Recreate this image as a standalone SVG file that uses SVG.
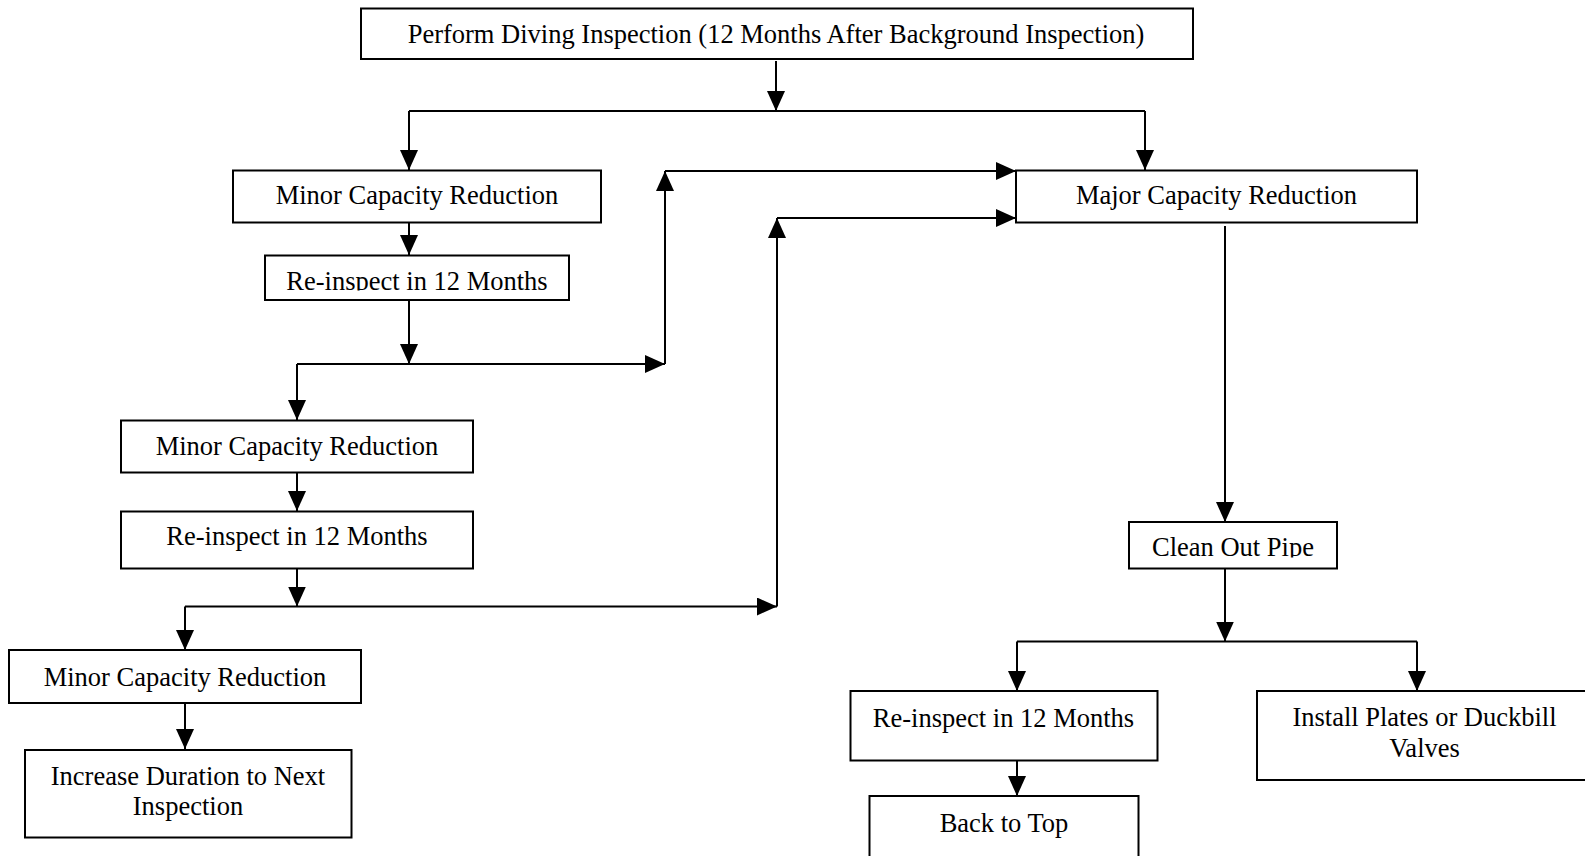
<svg xmlns="http://www.w3.org/2000/svg" width="1585" height="856" viewBox="0 0 1585 856">
<style>
.box{fill:#fff;stroke:#000;stroke-width:2}
.t{font-family:"Liberation Serif","Times New Roman",serif;font-size:26.5px;fill:#000;text-anchor:middle}
.c{fill:none;stroke:#000;stroke-width:2}
.a{marker-end:url(#ah)}
</style>
<defs>
<marker id="ah" markerUnits="userSpaceOnUse" markerWidth="20" markerHeight="18" refX="20" refY="9" orient="auto" viewBox="0 0 20 18">
<path d="M0,0 L20,9 L0,18 z" fill="#000"/>
</marker>
<clipPath id="clipR1"><rect x="265" y="256" width="304" height="34.5"/></clipPath>
<clipPath id="clipCP"><rect x="1129" y="522" width="208" height="35.5"/></clipPath>
</defs>
<rect width="1585" height="856" fill="#fff"/>
<g id="connectors">
<path class="c a" d="M776,61 L776,111"/>
<path class="c" d="M409,111 L1145,111"/>
<path class="c a" d="M409,111 L409,170"/>
<path class="c a" d="M1145,111 L1145,170"/>
<path class="c a" d="M409,223 L409,255"/>
<path class="c a" d="M409,300 L409,364"/>
<path class="c a" d="M297,364 L665,364"/>
<path class="c a" d="M297,364 L297,420"/>
<path class="c a" d="M665,364 L665,171"/>
<path class="c a" d="M665,171 L1016,171"/>
<path class="c a" d="M297,473 L297,511"/>
<path class="c a" d="M297,569 L297,606.5"/>
<path class="c a" d="M185,606.5 L777,606.5"/>
<path class="c a" d="M185,606.5 L185,650"/>
<path class="c a" d="M777,606.5 L777,218"/>
<path class="c a" d="M777,218 L1016,218"/>
<path class="c a" d="M185,703 L185,749"/>
<path class="c a" d="M1225,226 L1225,522"/>
<path class="c a" d="M1225,569 L1225,641.5"/>
<path class="c" d="M1017,641.5 L1417,641.5"/>
<path class="c a" d="M1017,641.5 L1017,691"/>
<path class="c a" d="M1417,641.5 L1417,691"/>
<path class="c a" d="M1017,761 L1017,796"/>
</g>
<g id="n-top">
<rect class="box" x="361" y="8.5" width="832" height="50.5"/>
<text class="t" x="776" y="42.5">Perform Diving Inspection (12 Months After Background Inspection)</text>
</g>
<g id="n-minor1">
<rect class="box" x="233" y="170.5" width="368" height="52"/>
<text class="t" x="417" y="204">Minor Capacity Reduction</text>
</g>
<g id="n-reinspect1">
<rect class="box" x="265" y="255.5" width="304" height="44.5"/>
<text class="t" x="417" y="289.5" clip-path="url(#clipR1)">Re-inspect in 12 Months</text>
</g>
<g id="n-major">
<rect class="box" x="1016" y="170.5" width="401" height="52"/>
<text class="t" x="1216.5" y="204">Major Capacity Reduction</text>
</g>
<g id="n-minor2">
<rect class="box" x="121" y="420.5" width="352" height="52"/>
<text class="t" x="297" y="455">Minor Capacity Reduction</text>
</g>
<g id="n-reinspect2">
<rect class="box" x="121" y="511.5" width="352" height="57"/>
<text class="t" x="297" y="544.5">Re-inspect in 12 Months</text>
</g>
<g id="n-minor3">
<rect class="box" x="9" y="650" width="352" height="53"/>
<text class="t" x="185" y="685.5">Minor Capacity Reduction</text>
</g>
<g id="n-increase">
<rect class="box" x="25" y="750" width="326.5" height="87.5"/>
<text class="t" x="188" y="784.5">Increase Duration to Next</text>
<text class="t" x="188" y="815">Inspection</text>
</g>
<g id="n-clean">
<rect class="box" x="1129" y="522" width="208" height="46.5"/>
<text class="t" x="1233" y="556" clip-path="url(#clipCP)">Clean Out Pipe</text>
</g>
<g id="n-reinspect3">
<rect class="box" x="850.5" y="691" width="307" height="69.5"/>
<text class="t" x="1003.5" y="726.5">Re-inspect in 12 Months</text>
</g>
<g id="n-install">
<rect class="box" x="1257" y="691" width="345" height="89"/>
<text class="t" x="1424.5" y="726">Install Plates or Duckbill</text>
<text class="t" x="1424.5" y="756.5">Valves</text>
</g>
<g id="n-back">
<rect class="box" x="869.5" y="796" width="269" height="75"/>
<text class="t" x="1004" y="831.5">Back to Top</text>
</g>
</svg>
